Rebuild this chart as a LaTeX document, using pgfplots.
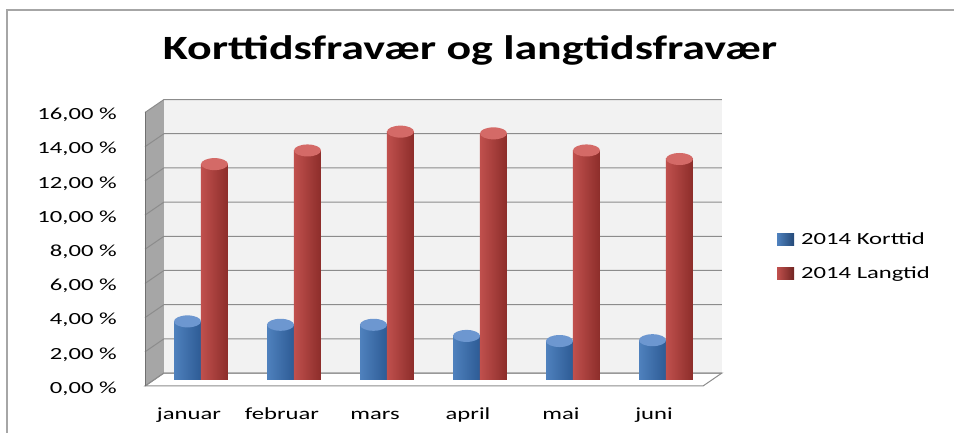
\documentclass[border=0pt]{standalone}
\usepackage{pgfplots}
\pgfplotsset{compat=1.18}
\usepackage{fontspec}
\setmainfont{Carlito}[FakeStretch=1.45]
\definecolor{bluemain}{HTML}{4F81BD}
\definecolor{bluedark}{HTML}{2D5B95}
\definecolor{bluelight}{HTML}{7EA6DB}
\definecolor{bluecap}{HTML}{6D97D0}
\definecolor{redmain}{HTML}{C0504D}
\definecolor{reddark}{HTML}{8C2D2A}
\definecolor{redlight}{HTML}{D87B78}
\definecolor{redcap}{HTML}{D46A67}
\definecolor{wallback}{HTML}{F2F2F2}
\definecolor{wallside}{HTML}{A6A6A6}
\definecolor{gridc}{HTML}{8C8C8C}
\definecolor{framec}{HTML}{A6A6A6}
\pgfdeclareplotmark{cylcap}{\pgfpathellipse{\pgfpointorigin}{\pgfqpoint{13.5pt}{0pt}}{\pgfqpoint{0pt}{6pt}}\pgfusepathqfill}
\pgfplotsset{
  bluebar/.style={ybar, bar width=0.29, bar shift=-0.145, draw=none,
    left color=bluemain, middle color=bluelight, right color=bluedark,
    mark=cylcap, mark options={xshift=-13.5pt, fill=bluecap, draw=none}},
  redbar/.style={ybar, bar width=0.29, bar shift=0.145, draw=none,
    left color=redmain, middle color=redlight, right color=reddark,
    mark=cylcap, mark options={xshift=13.5pt, fill=redcap, draw=none}},
}
\begin{document}
\begin{tikzpicture}[x=1pt,y=1pt]
\draw[framec, line width=1.3pt] (7,422) rectangle (1000,-60);
\node[font=\bfseries\fontsize{34}{40}\selectfont, anchor=base] at (470,372) {\scalebox{0.93}[1]{Korttidsfravær og langtidsfravær}};
\begin{axis}[
  at={(154.5pt,52.5pt)}, anchor=south west,
  scale only axis, width=558pt, height=273.5pt,
  xmin=-0.5, xmax=5.5, ymin=0, ymax=16,
  clip=false,
  axis line style={draw=none},
  major tick length=0pt,
  xtick={0,1,2,3,4,5},
  xticklabels={\mbox{\rmfamily januar},\mbox{\rmfamily februar},\mbox{\rmfamily mars},\mbox{\rmfamily april},\mbox{\rmfamily mai},\mbox{\rmfamily juni}},
  ytick={0,2,4,6,8,10,12,14,16},
  yticklabels={{0,00 \%},{2,00 \%},{4,00 \%},{6,00 \%},{8,00 \%},{10,00 \%},{12,00 \%},{14,00 \%},{16,00 \%}},
  yticklabel style={anchor=east, inner sep=0pt, xshift=-37.5pt, yshift=-9pt, font=\fontsize{17}{20}\selectfont},
  xticklabel style={anchor=base, inner sep=0pt, xshift=-12pt, yshift=-39.5pt, font=\fontsize{17}{20}\selectfont},
  legend style={at={(axis description cs:1.1156,0.45)}, anchor=west, draw=none, fill=none,
    font=\fontsize{17}{20}\selectfont, row sep=16pt, inner sep=0pt,
    nodes={inner xsep=7pt}},
  legend cell align=left,
]
% back wall
\fill[wallback] (axis cs:-0.398,0.38) rectangle (axis cs:5.602,16.38);
% side wall
\fill[wallside] (axis cs:-0.602,-0.38) -- (axis cs:-0.398,0.38) -- (axis cs:-0.398,16.38) -- (axis cs:-0.602,15.62) -- cycle;
% floor
\filldraw[fill=white, draw=gridc, line width=1pt] (axis cs:-0.602,-0.38) -- (axis cs:5.398,-0.38) -- (axis cs:5.602,0.38) -- (axis cs:-0.398,0.38) -- cycle;
% gridlines
\draw[gridc, line width=1pt] (axis cs:-0.602,-0.38) -- (axis cs:-0.398,0.38) -- (axis cs:5.602,0.38);
\draw[gridc, line width=1pt] (axis cs:-0.602,1.62) -- (axis cs:-0.398,2.38) -- (axis cs:5.602,2.38);
\draw[gridc, line width=1pt] (axis cs:-0.602,3.62) -- (axis cs:-0.398,4.38) -- (axis cs:5.602,4.38);
\draw[gridc, line width=1pt] (axis cs:-0.602,5.62) -- (axis cs:-0.398,6.38) -- (axis cs:5.602,6.38);
\draw[gridc, line width=1pt] (axis cs:-0.602,7.62) -- (axis cs:-0.398,8.38) -- (axis cs:5.602,8.38);
\draw[gridc, line width=1pt] (axis cs:-0.602,9.62) -- (axis cs:-0.398,10.38) -- (axis cs:5.602,10.38);
\draw[gridc, line width=1pt] (axis cs:-0.602,11.62) -- (axis cs:-0.398,12.38) -- (axis cs:5.602,12.38);
\draw[gridc, line width=1pt] (axis cs:-0.602,13.62) -- (axis cs:-0.398,14.38) -- (axis cs:5.602,14.38);
\draw[gridc, line width=1pt] (axis cs:-0.602,15.62) -- (axis cs:-0.398,16.38) -- (axis cs:5.602,16.38);
\draw[gridc!80!black, line width=0.8pt] (axis cs:-0.602,-0.38) -- (axis cs:-0.602,15.62);

% 2014 Korttid
\addplot[bluebar, legend image code/.code={\shade[left color=bluemain, right color=bluedark!80!black] (0pt,-6pt) rectangle (17pt,6pt);}]
  coordinates {(0,3.4)};
\addlegendentry{2014 Korttid}
% 2014 Langtid
\addplot[redbar, legend image code/.code={\shade[left color=redmain, right color=reddark!80!black] (0pt,-6pt) rectangle (17pt,6pt);}]
  coordinates {(0,12.6)};
\addlegendentry{2014 Langtid}
\addplot[bluebar, forget plot] coordinates {(1,3.2)};
\addplot[bluebar, forget plot] coordinates {(2,3.2)};
\addplot[bluebar, forget plot] coordinates {(3,2.55)};
\addplot[bluebar, forget plot] coordinates {(4,2.25)};
\addplot[bluebar, forget plot] coordinates {(5,2.3)};
\addplot[redbar, forget plot] coordinates {(1,13.4)};
\addplot[redbar, forget plot] coordinates {(2,14.5)};
\addplot[redbar, forget plot] coordinates {(3,14.4)};
\addplot[redbar, forget plot] coordinates {(4,13.4)};
\addplot[redbar, forget plot] coordinates {(5,12.9)};
\end{axis}
\pgfresetboundingbox
\useasboundingbox (0,0) rectangle (954,432);
\end{tikzpicture}
\end{document}
